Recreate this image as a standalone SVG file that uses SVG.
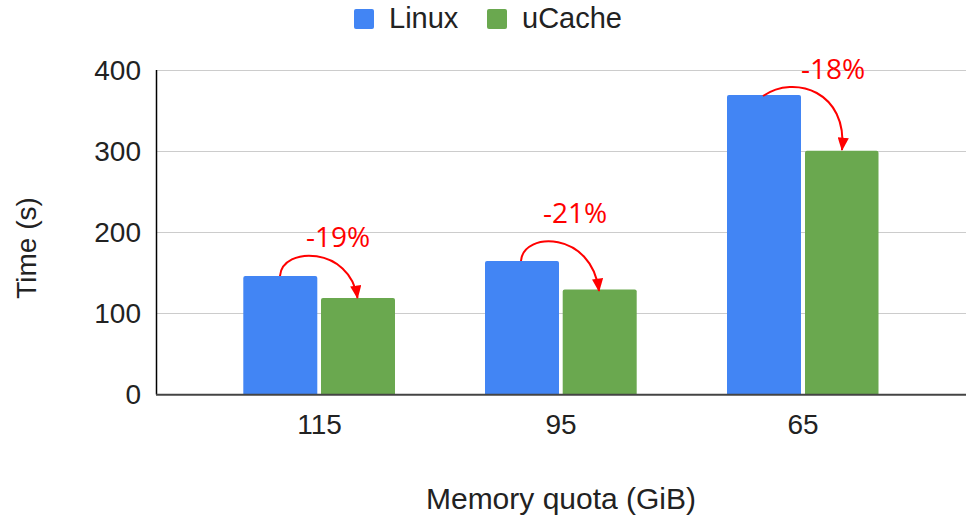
<svg xmlns="http://www.w3.org/2000/svg" width="970" height="519" viewBox="0 0 970 519">
  <style>
    text { font-family: "Liberation Sans", Arial, sans-serif; fill: #222; }
    .tick { font-size: 28px; }
    .title { font-size: 28px; }
    .xtitle { font-size: 30px; }
    .leg { font-size: 29px; }
    .pct { font-family: "Open Sans", "Noto Sans", sans-serif; font-size: 28px; fill: #ff0000; text-anchor: middle; }
    .grid { stroke: #cccccc; stroke-width: 1.2; }
    .linux { fill: #4285f4; }
    .ucache { fill: #6aa84f; }
    .arr { fill: none; stroke: #ff0000; stroke-width: 2; marker-end: url(#ah); }
  </style>
  <defs>
    <marker id="ah" viewBox="0 0 12 10" refX="11" refY="5" markerWidth="7" markerHeight="5.6" orient="auto" markerUnits="strokeWidth">
      <path d="M0,0 L12,5 L0,10 z" fill="#ff0000"/>
    </marker>
  </defs>
  <rect width="970" height="519" fill="#ffffff"/>

  <g id="legend">
    <rect x="354" y="9" width="20" height="20" rx="2" class="linux"/>
    <text x="389" y="28" class="leg">Linux</text>
    <rect x="487" y="9" width="20" height="20" rx="2" class="ucache"/>
    <text x="522" y="28" class="leg">uCache</text>
  </g>

  <g id="grid">
    <line x1="156" y1="70.5" x2="966" y2="70.5" class="grid"/>
    <line x1="156" y1="151.5" x2="966" y2="151.5" class="grid"/>
    <line x1="156" y1="232.5" x2="966" y2="232.5" class="grid"/>
    <line x1="156" y1="313.5" x2="966" y2="313.5" class="grid"/>
  </g>

  <g id="y-axis">
    <text x="141" y="80" class="tick" text-anchor="end">400</text>
    <text x="141" y="161" class="tick" text-anchor="end">300</text>
    <text x="141" y="242" class="tick" text-anchor="end">200</text>
    <text x="141" y="323" class="tick" text-anchor="end">100</text>
    <text x="141" y="404" class="tick" text-anchor="end">0</text>
    <text transform="translate(36,248) rotate(-90)" class="title" text-anchor="middle">Time (s)</text>
  </g>

  <g id="bars-115">
    <path d="M243.3,394.5 V278 Q243.3,276 245.3,276 H315.3 Q317.3,276 317.3,278 V394.5 z" class="linux"/>
    <path d="M321,394.5 V300 Q321,298 323,298 H393 Q395,298 395,300 V394.5 z" class="ucache"/>
  </g>
  <g id="bars-95">
    <path d="M485,394.5 V263 Q485,261 487,261 H557 Q559,261 559,263 V394.5 z" class="linux"/>
    <path d="M562.7,394.5 V291.5 Q562.7,289.5 564.7,289.5 H634.7 Q636.7,289.5 636.7,291.5 V394.5 z" class="ucache"/>
  </g>
  <g id="bars-65">
    <path d="M727,394.5 V97 Q727,95 729,95 H799 Q801,95 801,97 V394.5 z" class="linux"/>
    <path d="M805,394.5 V152.7 Q805,150.7 807,150.7 H876.5 Q878.5,150.7 878.5,152.7 V394.5 z" class="ucache"/>
  </g>

  <g id="axes">
    <line x1="156.5" y1="70" x2="156.5" y2="394.5" stroke="#000000" stroke-width="1.5"/>
    <line x1="156" y1="394.7" x2="966" y2="394.7" stroke="#444444" stroke-width="2"/>
  </g>

  <g id="x-axis">
    <text x="319.5" y="434" class="tick" text-anchor="middle">115</text>
    <text x="561" y="434" class="tick" text-anchor="middle">95</text>
    <text x="803" y="434" class="tick" text-anchor="middle">65</text>
    <text x="561" y="509" class="xtitle" text-anchor="middle">Memory quota (GiB)</text>
  </g>

  <g id="connectors">
    <path d="M280,276 C282,246 350,246 357.5,298" class="arr"/>
    <path d="M521,261 C523,231 592,231 599,291" class="arr"/>
    <path d="M763,96 C795,74 848,92 842,150" class="arr"/>
  </g>

  <g id="labels">
    <text x="338" y="247" class="pct">-19%</text>
    <text x="575" y="223" class="pct">-21%</text>
    <text x="833" y="79" class="pct">-18%</text>
  </g>
</svg>
